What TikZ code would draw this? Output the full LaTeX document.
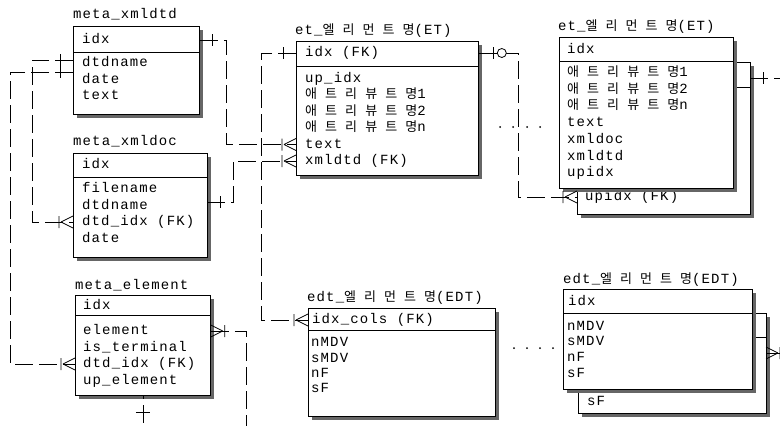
\documentclass[tikz,border=0pt]{standalone}
\usepackage{fontspec}
\newfontfamily\erfont[LetterSpace=8]{Liberation Mono}
\newfontfamily\krfont[LetterSpace=62]{Noto Sans CJK KR}
\newcommand\erf{\erfont\fontsize{14pt}{16pt}\selectfont}
\newcommand\kr[1]{{\krfont\fontsize{13pt}{16pt}\selectfont #1}}
\usetikzlibrary{shadows,calc}
\tikzset{
  tbl/.style={draw, line width=0.8pt, fill=white, anchor=north west, inner sep=0pt,
    drop shadow={shadow xshift=4pt, shadow yshift=-4pt, fill=black!60, opacity=1}},
  sepl/.style={line width=0.8pt},
  ttl/.style={anchor=west, inner sep=0pt, font=\erf},
  fld/.style={anchor=west, inner sep=0pt, font=\erf, text height=9pt, text depth=2pt},
  rel/.style={line width=0.7pt, dash pattern=on 18pt off 6pt},
  mk/.style={line width=0.8pt},
  pone/.pic={\draw[mk] (13,-6) -- (13,6);},
  pmany/.pic={\draw[mk] (12,0) -- (0,-6) (12,0) -- (0,6) (14,-6) -- (14,6);},
  pzo/.pic={\draw[mk] (15,-6) -- (15,6); \draw[mk, fill=white] (23,0) circle (4.5);}
}
\begin{document}
\begin{tikzpicture}[x=1pt,y=-1pt]
\useasboundingbox (0,0) rectangle (780,426);
\clip (0,0) rectangle (780,426);

% meta_xmldtd
\node[ttl] (dtd-t) at (73,14) {meta\_xmldtd};
\node[tbl, minimum width=126pt, minimum height=88pt] (dtd) at (73,26) {};
\draw[sepl] (73,52) -- (199,52);
\node[fld] (dtd-k) at (82,40) {idx};
\foreach \f [count=\i] in {dtdname,date,text}
  \node[fld] (dtd-\i) at (82,46.5+\i*16.5) {\f};
\coordinate (dtd-l1) at (73,60);
\coordinate (dtd-l2) at (73,72);

% meta_xmldoc
\node[ttl] (doc-t) at (73,141) {meta\_xmldoc};
\node[tbl, minimum width=134pt, minimum height=104pt] (doc) at (73,153) {};
\draw[sepl] (73,177) -- (207,177);
\node[fld] (doc-k) at (82,165) {idx};
\foreach \f [count=\i] in {filename,dtdname,dtd\_idx (FK),date}
  \node[fld] (doc-\i) at (82,172.5+\i*16.5) {\f};
\coordinate (doc-r) at (207,202);

% meta_element
\node[ttl] (elm-t) at (75,285) {meta\_element};
\node[tbl, minimum width=135pt, minimum height=100pt] (elm) at (75,295) {};
\draw[sepl] (75,315) -- (210,315);
\node[fld] (elm-k) at (83,306) {idx};
\foreach \f [count=\i] in {element,is\_terminal,dtd\_idx (FK),up\_element}
  \node[fld] (elm-\i) at (83,314.5+\i*16.5) {\f};

% et_ (가운데)
\node[ttl] (et1-t) at (295,31) {et\_\kr{엘리먼트명}(ET)};
\node[tbl, minimum width=182pt, minimum height=134pt] (et1) at (296,41) {};
\draw[sepl] (296,66) -- (478,66);
\node[fld] (et1-k) at (305,53) {idx (FK)};
\foreach \f [count=\i] in {up\_idx,\kr{애트리뷰트명}1,\kr{애트리뷰트명}2,\kr{애트리뷰트명}n,text,xmldtd (FK)}
  \node[fld] (et1-\i) at (305,62+\i*16.5) {\f};

% et_ (오른쪽, 뒤)
\node[tbl, minimum width=173pt, minimum height=152pt] (et2b) at (577,62) {};
\draw[sepl] (577,87) -- (750,87);
\node[fld] (et2b-u) at (585,197) {upidx (FK)};
\coordinate (et2b-r) at (750,78);

% et_ (오른쪽, 앞)
\node[ttl] (et2-t) at (558,27) {et\_\kr{엘리먼트명}(ET)};
\node[tbl, minimum width=174pt, minimum height=151pt] (et2) at (559,37) {};
\draw[sepl] (559,61) -- (733,61);
\node[fld] (et2-k) at (567,50) {idx};
\foreach \f [count=\i] in {\kr{애트리뷰트명}1,\kr{애트리뷰트명}2,\kr{애트리뷰트명}n,text,xmldoc,xmldtd,upidx}
  \node[fld] (et2-\i) at (567,56.3+\i*16.7) {\f};

% edt_ (가운데)
\node[ttl] (edt1-t) at (307,298) {edt\_\kr{엘리먼트명}(EDT)};
\node[tbl, minimum width=187pt, minimum height=108pt] (edt1) at (308,308) {};
\draw[sepl] (308,330) -- (495,330);
\node[fld] (edt1-k) at (312,320) {idx\_cols (FK)};
\foreach \f [count=\i] in {nMDV,sMDV,nF,sF}
  \node[fld] (edt1-\i) at (311,328+\i*15.3) {\f};

% edt_ (오른쪽, 뒤)
\node[tbl, minimum width=188pt, minimum height=100pt] (edt2b) at (578,313) {};
\draw[sepl] (578,337) -- (766,337);
\node[fld] (edt2b-s) at (587,402) {sF};
\coordinate (edt2b-r) at (766,353);

% edt_ (오른쪽, 앞)
\node[ttl] (edt2-t) at (563,280) {edt\_\kr{엘리먼트명}(EDT)};
\node[tbl, minimum width=189pt, minimum height=100pt] (edt2) at (563,289) {};
\draw[sepl] (563,313) -- (752,313);
\node[fld] (edt2-k) at (568,302) {idx};
\foreach \f [count=\i] in {nMDV,sMDV,nF,sF}
  \node[fld] (edt2-\i) at (567,311+\i*15.7) {\f};

% 관계선
\draw[rel] (dtd.east |- dtd-k) -- ++(27,0) |- (et1.west |- et1-5);
\pic at (dtd.east |- dtd-k) {pone};
\pic[xscale=-1] at (et1.west |- et1-5) {pmany};

\draw[rel] (doc-r) -- ++(26,0) |- (et1.west |- et1-6);
\pic at (doc-r) {pone};
\pic[xscale=-1] at (et1.west |- et1-6) {pmany};

\draw[rel] (dtd-l1) -- ++(-41,0) |- (doc.west |- doc-3);
\pic[xscale=-1] at (dtd-l1) {pone};
\pic[xscale=-1] at (doc.west |- doc-3) {pmany};

\draw[rel] (dtd-l2) -- ++(-63,0) |- (elm.west |- elm-3);
\pic[xscale=-1] at (dtd-l2) {pone};
\pic[xscale=-1] at (elm.west |- elm-3) {pmany};

\draw[rel] (elm.east |- elm-1) -- ++(36,0) -- ++(0,120) -| (elm.south);
\pic at (elm.east |- elm-1) {pmany};
\draw[mk] ($(elm.south)+(-7,17)$) -- ++(14,0);

\draw[rel] (et1.west |- et1-k) -- ++(-35,0) |- (edt1.west |- edt1-k);
\pic[xscale=-1] at (et1.west |- et1-k) {pone};
\pic[xscale=-1] at (edt1.west |- edt1-k) {pmany};

\draw[rel] (et1.east |- et1-k) -- ++(40,0) |- (et2b.west |- et2b-u);
\pic at (et1.east |- et1-k) {pzo};
\pic[xscale=-1] at (et2b.west |- et2b-u) {pmany};

\draw[rel] (et2b-r) -- ++(40,0);
\pic at (et2b-r) {pone};
\draw[rel] (edt2b-r) -- ++(40,0);
\pic at (edt2b-r) {pmany};

% 반복 표시
\foreach \x in {500,513,527,540} \fill (\x,127) circle (1);
\foreach \x in {514,527,540,553} \fill (\x,348) circle (1);
\end{tikzpicture}
\end{document}
